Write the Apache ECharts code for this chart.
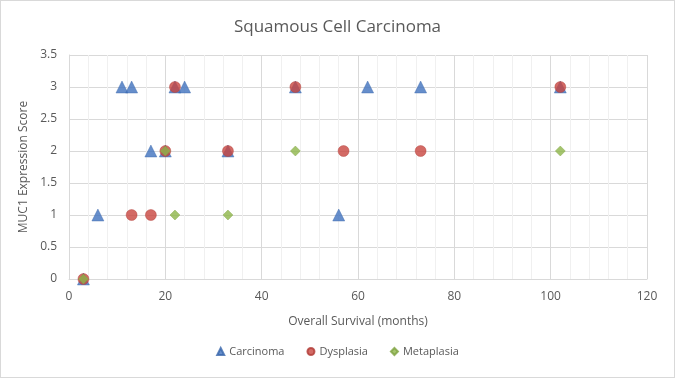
<!DOCTYPE html>
<html>
<head>
<meta charset="utf-8">
<script src="https://cdn.jsdelivr.net/npm/echarts@6/dist/echarts.min.js"></script>
<style>
    html,body{margin:0;padding:0;background:#fff;}
    #chart{width:675px;height:378px;box-sizing:border-box;border:1px solid #d9d9d9;}
</style>
</head>
<body>
<div id="chart"></div>
<script>
// survival (months), expression score
var carcinoma = [[3,0],[6,1],[11,3],[13,3],[17,2],[20,2],[22,3],[24,3],[33,2],[47,3],[56,1],[62,3],[73,3],[102,3]];
var dysplasia = [[3,0],[13,1],[17,1],[20,2],[22,3],[33,2],[47,3],[57,2],[73,2],[102,3]];
var metaplasia = [[3,0],[20,2],[22,1],[33,1],[47,2],[102,2]];
var seriesNames = ['Carcinoma', 'Dysplasia', 'Metaplasia'];

var chart = echarts.init(document.getElementById('chart'));
var font = '"Open Sans", "Liberation Sans", sans-serif';
var txt = '#595959';

var option = {
    backgroundColor: '#fff',
    animation: false,
    textStyle: {fontFamily: font},
    title: {
        text: 'Squamous Cell Carcinoma',
        left: 'center',
        top: 13,
        textStyle: {fontFamily: font, fontWeight: 'normal', fontSize: 17, color: txt}
    },
    legend: {
        bottom: 15,
        left: 'center',
        itemWidth: 7,
        itemHeight: 7,
        itemGap: 22,
        textStyle: {fontFamily: font, fontSize: 11, color: txt},
        data: [
            {name: 'Carcinoma', icon: 'triangle'},
            {name: 'Dysplasia', icon: 'circle'},
            {name: 'Metaplasia', icon: 'diamond'}
        ]
    },
    grid: {left: 68, right: 27, top: 54, bottom: 98, containLabel: false},
    xAxis: {
        type: 'value',
        min: 0,
        max: 120,
        interval: 20,
        name: 'Overall Survival (months)',
        nameLocation: 'middle',
        nameGap: 37,
        nameTextStyle: {fontFamily: font, fontSize: 12, color: txt},
        axisLine: {show: true, lineStyle: {color: '#d9d9d9'}},
        axisTick: {show: false},
        axisLabel: {fontFamily: font, fontSize: 12, color: txt, margin: 12},
        splitLine: {show: true, lineStyle: {color: '#d9d9d9'}},
        minorTick: {show: false, splitNumber: 5},
        minorSplitLine: {show: true, lineStyle: {color: '#f0f0f0'}}
    },
    yAxis: {
        type: 'value',
        min: 0,
        max: 3.5,
        interval: 0.5,
        name: 'MUC1 Expression Score',
        nameLocation: 'middle',
        nameGap: 38,
        nameTextStyle: {fontFamily: font, fontSize: 12, color: txt},
        axisLine: {show: true, lineStyle: {color: '#d9d9d9'}},
        axisTick: {show: false},
        axisLabel: {fontFamily: font, fontSize: 12, color: txt, margin: 12},
        splitLine: {show: true, lineStyle: {color: '#d9d9d9'}}
    },
    series: [{
        name: seriesNames[0],
        type: 'scatter',
        symbol: 'triangle',
        symbolSize: 12,
        itemStyle: {color: '#4072be', borderColor: '#3a67ab', borderWidth: 0.5},
        data: carcinoma
    }, {
        name: seriesNames[1],
        type: 'scatter',
        symbol: 'circle',
        symbolSize: 11,
        itemStyle: {color: '#c8453f', borderColor: '#b03a35', borderWidth: 0.5},
        data: dysplasia
    }, {
        name: seriesNames[2],
        type: 'scatter',
        symbol: 'diamond',
        symbolSize: 10,
        itemStyle: {color: '#8db548', borderColor: '#7ea340', borderWidth: 0.5},
        data: metaplasia
    }]
};
chart.setOption(option);
</script>
</body>
</html>
